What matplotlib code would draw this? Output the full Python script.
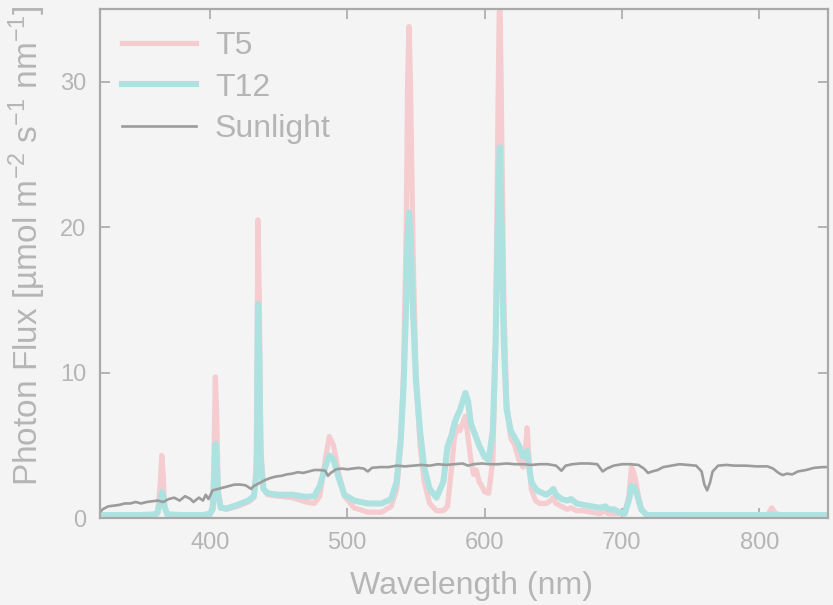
import matplotlib
matplotlib.use("Agg")
import matplotlib.pyplot as plt

plt.rcParams['font.family'] = ['Liberation Sans', 'DejaVu Sans']
plt.rcParams['mathtext.fontset'] = 'custom'
plt.rcParams['mathtext.rm'] = 'Liberation Sans'
plt.rcParams['mathtext.it'] = 'Liberation Sans'
plt.rcParams['mathtext.bf'] = 'Liberation Sans'

# Lamp spectra (wavelength in nm, photon flux)
lamp_wl = [320, 330, 340, 350, 360, 362, 364, 365, 366, 367, 369, 380, 395,
           400, 402, 403, 404, 405, 406, 408, 412, 420, 428, 432, 434, 435,
           436, 437, 439, 442, 450, 460, 470, 476, 480, 484, 487, 490, 494,
           498, 505, 515, 525, 532, 536, 539, 541, 543, 544, 545, 546, 548,
           550, 553, 556, 560, 565, 570, 573, 576, 578, 580, 582, 584, 586,
           588, 590, 592, 594, 596, 598, 600, 603, 606, 608, 610, 611, 612,
           614, 616, 619, 622, 625, 628, 630, 631, 632, 634, 637, 640, 645,
           648, 650, 652, 656, 660, 663, 667, 672, 678, 684, 688, 690, 694,
           698, 702, 705, 707, 709, 711, 714, 718, 740, 800, 806, 809, 812,
           820, 850]
t5 = [0.1, 0.1, 0.1, 0.1, 0.15, 0.3, 2.5, 4.3, 3.0, 0.8, 0.2, 0.15, 0.15,
      0.2, 0.6, 4.0, 9.7, 7.0, 2.0, 0.7, 0.6, 0.8, 1.1, 1.4, 4.0, 20.5,
      15.0, 5.0, 2.0, 1.6, 1.5, 1.4, 1.1, 1.0, 1.5, 4.0, 5.6, 5.0, 3.0,
      1.5, 0.7, 0.4, 0.4, 0.8, 2.0, 5.0, 10.0, 20.0, 30.0, 33.8, 30.0, 18.0,
      10.0, 5.0, 2.5, 1.0, 0.5, 0.5, 0.8, 3.5, 5.5, 6.3, 6.0, 6.5, 7.0,
      5.5, 4.0, 3.0, 3.3, 2.5, 2.2, 1.8, 1.7, 4.0, 12.0, 30.0, 37.0, 30.0,
      15.0, 8.0, 5.5, 5.0, 4.0, 3.5, 5.0, 6.2, 4.5, 2.0, 1.2, 1.0, 1.0,
      1.2, 1.4, 1.0, 0.8, 0.6, 0.7, 0.5, 0.5, 0.4, 0.3, 0.5, 0.3, 0.3,
      0.3, 0.3, 1.5, 3.5, 3.0, 2.0, 0.6, 0.2, 0.2, 0.15, 0.2, 0.7, 0.3,
      0.15, 0.15]
t12 = [0.2, 0.2, 0.2, 0.2, 0.25, 0.4, 1.2, 1.8, 1.5, 0.8, 0.25, 0.2, 0.2,
       0.3, 0.6, 2.5, 5.1, 4.0, 1.5, 0.7, 0.65, 0.9, 1.2, 1.5, 3.0, 14.7,
       11.0, 4.0, 2.0, 1.7, 1.6, 1.6, 1.45, 1.5, 2.2, 3.5, 4.3, 4.0, 2.7,
       1.6, 1.2, 1.0, 1.0, 1.3, 2.5, 5.5, 9.0, 15.0, 19.5, 21.0, 19.5, 14.0,
       9.5, 6.0, 3.5, 2.0, 1.4, 2.5, 4.9, 5.7, 6.5, 7.0, 7.4, 8.0, 8.6,
       8.0, 6.5, 6.0, 5.5, 5.0, 4.6, 4.2, 4.0, 6.0, 12.0, 22.0, 25.5, 22.0,
       12.0, 7.5, 6.0, 5.5, 5.0, 4.2, 4.5, 4.6, 3.8, 2.5, 2.0, 1.8, 1.6,
       1.8, 2.0, 1.6, 1.3, 1.2, 1.3, 1.0, 0.9, 0.8, 0.7, 0.8, 0.6, 0.6,
       0.4, 0.3, 1.2, 2.2, 2.1, 1.6, 0.6, 0.2, 0.2, 0.2, 0.2, 0.25, 0.2,
       0.2, 0.2]

# Sunlight spectrum
sun_wl = [320, 322, 326, 330, 334, 338, 342, 346, 350, 354, 358, 362, 366,
          370, 374, 378, 382, 386, 388, 392, 395, 397, 399, 402, 406, 410,
          414, 418, 422, 426, 430, 432, 436, 440, 444, 448, 452, 456, 460,
          464, 468, 472, 476, 480, 484, 486, 488, 492, 496, 500, 504, 508,
          512, 515, 518, 524, 530, 536, 542, 548, 554, 560, 566, 572, 578,
          584, 588, 592, 598, 604, 610, 616, 622, 628, 634, 640, 646, 652,
          656, 659, 664, 670, 676, 682, 686, 689, 694, 700, 706, 712, 716,
          719, 722, 726, 730, 736, 742, 748, 754, 758, 760, 762, 764, 766,
          770, 776, 782, 790, 798, 806, 810, 814, 817, 820, 824, 828, 834,
          840, 846, 850]
sun = [0.4, 0.6, 0.8, 0.85, 0.9, 1.0, 1.0, 1.1, 1.0, 1.1, 1.15, 1.2, 1.1,
       1.3, 1.4, 1.2, 1.5, 1.3, 1.1, 1.4, 1.2, 1.6, 1.3, 1.9, 2.0, 2.1,
       2.2, 2.3, 2.3, 2.25, 2.0, 2.2, 2.4, 2.6, 2.75, 2.85, 2.9, 3.0, 3.05,
       3.15, 3.1, 3.2, 3.3, 3.3, 3.25, 2.9, 3.1, 3.35, 3.4, 3.35, 3.4, 3.45,
       3.4, 3.2, 3.45, 3.5, 3.5, 3.6, 3.55, 3.6, 3.65, 3.6, 3.7, 3.65, 3.7,
       3.75, 3.6, 3.7, 3.75, 3.7, 3.7, 3.75, 3.7, 3.7, 3.65, 3.7, 3.7, 3.6,
       3.25, 3.6, 3.7, 3.75, 3.75, 3.7, 3.2, 3.4, 3.6, 3.7, 3.7, 3.65, 3.4,
       3.1, 3.2, 3.3, 3.5, 3.6, 3.7, 3.65, 3.6, 3.2, 2.3, 1.9, 2.4, 3.2,
       3.6, 3.65, 3.6, 3.6, 3.55, 3.55, 3.4, 3.1, 2.95, 3.05, 3.0, 3.2, 3.3,
       3.45, 3.5, 3.5]

x_ticks = [400, 500, 600, 700, 800]
y_ticks = [0, 10, 20, 30]

bg = '#f4f4f4'
axc = '#a9a9a9'
txt = '#b5b5b5'

fig = plt.figure(figsize=(8.33, 6.05), dpi=100, facecolor=bg)
ax = fig.add_axes([0.12, 0.1438, 0.874, 0.8412], facecolor=bg)

ax.plot(lamp_wl, t5, color='#f5cdd0', lw=3.8, label='T5', solid_joinstyle='round')
ax.plot(lamp_wl, t12, color='#aee2e0', lw=4.4, label='T12', solid_joinstyle='round')
ax.plot(sun_wl, sun, color='#9c9c9c', lw=1.9, label='Sunlight')

ax.set_xlim(320, 850)
ax.set_ylim(0, 35)
ax.set_xticks(x_ticks)
ax.set_yticks(y_ticks)
ax.tick_params(direction='in', length=7, width=1.2, colors=axc,
               labelcolor=txt, labelsize=17, top=True, right=True, pad=10)
for s in ax.spines.values():
    s.set_color(axc)
    s.set_linewidth(1.6)

ax.set_xlabel('Wavelength (nm)', fontsize=23, color=txt)
ax.xaxis.set_label_coords(0.511, -0.105)
ax.set_ylabel('Photon Flux [µmol m$^{-2}$ s$^{-1}$ nm$^{-1}$]', fontsize=24,
              color=txt)
ax.yaxis.set_label_coords(-0.072, 0.535)

leg = ax.legend(loc='upper left', frameon=False, fontsize=23,
                handlelength=2.3, handletextpad=0.6, labelspacing=0.35,
                borderaxespad=0.3, bbox_to_anchor=(0.0, 1.0))
for t in leg.get_texts():
    t.set_color(txt)

fig.savefig('out.png', dpi=100, facecolor=bg)
